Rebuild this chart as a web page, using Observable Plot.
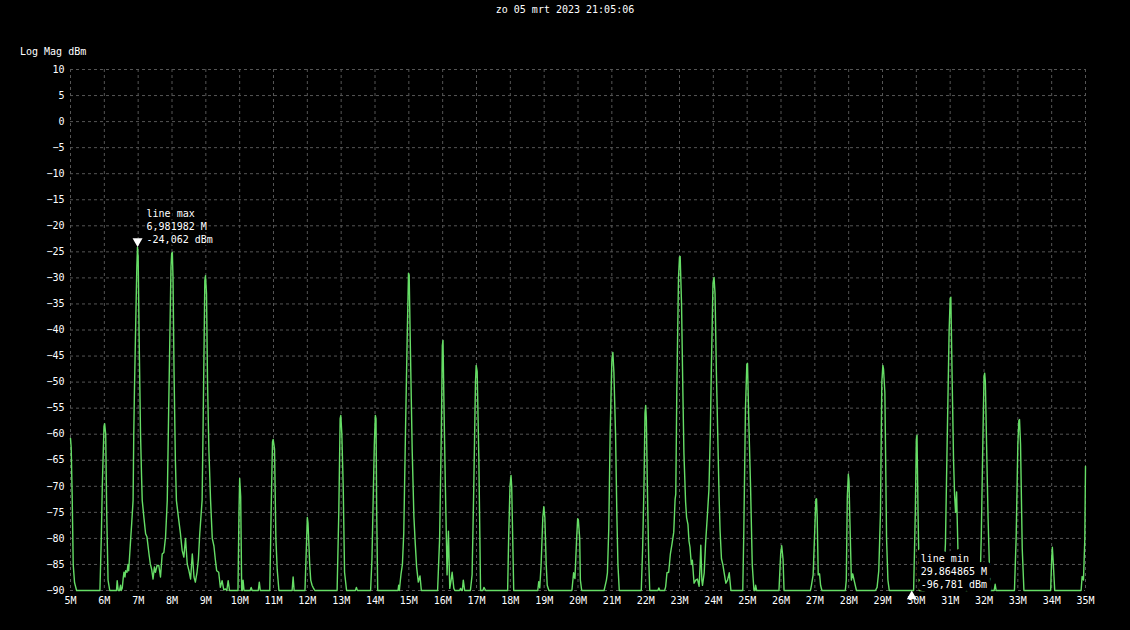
<!DOCTYPE html>
<html>
<head>
<meta charset="utf-8">
<script src="https://cdn.jsdelivr.net/npm/d3@7"></script>
<script src="https://cdn.jsdelivr.net/npm/@observablehq/plot@0.6"></script>
<style>
  html, body { margin: 0; padding: 0; background: #000; }
  #wrap { position: relative; width: 1130px; height: 630px; background: #000; font-family: "DejaVu Sans Mono", monospace; font-size: 10px; color: #fff; }
  #wrap svg { position: absolute; left: 0; top: 0; }
  #title { position: absolute; top: 4px; left: 0; width: 1130px; text-align: center; line-height: 12px; z-index: 2; }
  #ylab { position: absolute; top: 46px; left: 20px; line-height: 12px; z-index: 2; }
</style>
</head>
<body>
<div id="wrap"><div id="title"></div><div id="ylab"></div></div>
<script>
const titleText = "zo 05 mrt 2023 21:05:06";
const yUnitText = "Log Mag dBm";

const xTicks = [5,6,7,8,9,10,11,12,13,14,15,16,17,18,19,20,21,22,23,24,25,26,27,28,29,30,31,32,33,34,35];
const yTicks = [-90,-85,-80,-75,-70,-65,-60,-55,-50,-45,-40,-35,-30,-25,-20,-15,-10,-5,0,5,10];

// [frequency MHz, level dBm]
const seg05_10 = [
[5.00,-60.8],[5.02,-62.5],[5.05,-72],[5.08,-85],[5.12,-88.5],[5.18,-90],
[5.87,-90],[5.91,-80],[5.94,-70],[5.99,-58.5],[6.01,-58],[6.04,-60],[6.07,-75],[6.11,-88],[6.16,-90],
[6.36,-90],[6.38,-88.1],[6.41,-90],[6.45,-90],[6.48,-89],[6.50,-90],[6.53,-89.5],[6.56,-87.5],[6.58,-86.5],[6.61,-87.4],[6.63,-86.2],[6.67,-86.5],[6.70,-85],[6.72,-86.2],[6.77,-81],[6.81,-77],[6.85,-72.7],[6.87,-60],[6.89,-51.6],[6.93,-38],[6.96,-28],[6.98,-24.1],[7.00,-26],[7.03,-42],[7.07,-60],[7.10,-68],[7.12,-72.7],
[7.17,-76],[7.22,-79.1],[7.26,-79.7],[7.32,-83],[7.36,-84.9],[7.40,-86],[7.44,-87.8],[7.48,-85.5],[7.51,-86.5],[7.56,-85.2],[7.61,-85.2],[7.66,-87.4],[7.71,-83],[7.76,-82.7],[7.81,-79.7],[7.86,-72.7],[7.90,-56],[7.94,-40],[7.97,-28],[7.99,-25.3],[8.01,-25.1],[8.03,-30],[8.06,-48],[8.10,-65],[8.13,-72.7],
[8.20,-76.5],[8.25,-79.1],[8.30,-82.3],[8.35,-83.6],[8.40,-80],[8.45,-84.9],[8.50,-86.2],[8.55,-87.8],[8.60,-83],[8.65,-87.4],[8.69,-88.4],[8.74,-86.5],[8.78,-84],[8.82,-79.1],[8.89,-72.7],[8.92,-58],[8.95,-42],[8.97,-30.5],[8.99,-29.6],[9.02,-33],[9.05,-50],[9.09,-63],[9.14,-72.7],
[9.19,-80],[9.24,-81.5],[9.28,-84],[9.32,-86.2],[9.38,-86.5],[9.43,-89.4],[9.48,-88.1],[9.53,-89.9],[9.58,-89.7],[9.62,-90],[9.66,-88.1],[9.70,-90],[9.95,-90],[9.98,-75],[10.00,-68.5],[10.03,-72],[10.06,-90]
];
const seg10_15 = [
[10.08,-90],[10.10,-88],[10.13,-90],[10.31,-90],[10.34,-89.4],[10.37,-90],[10.55,-90],[10.58,-88.4],[10.61,-90],
[10.89,-90],[10.93,-75],[10.97,-61.5],[10.99,-61],[11.03,-62.8],[11.07,-80],[11.11,-86],[11.16,-90],
[11.55,-90],[11.58,-87.4],[11.61,-90],
[11.93,-90],[11.97,-82],[12.00,-76],[12.02,-77],[12.07,-85],[12.10,-88],[12.14,-89],[12.17,-89.4],[12.22,-90],
[12.88,-90],[12.93,-75],[12.97,-57],[12.99,-56.4],[13.02,-60],[13.06,-70],[13.10,-86.5],[13.16,-90],[13.42,-90],[13.45,-89.4],[13.48,-90],
[13.87,-90],[13.91,-84],[13.94,-74.6],[13.98,-62],[14.01,-56.4],[14.03,-57],[14.05,-75],[14.08,-90],
[14.68,-90],[14.70,-89],[14.72,-90],[14.75,-88],[14.77,-86.8],[14.81,-85],[14.85,-79],[14.90,-60],[14.95,-42],[14.99,-29.1],[15.01,-29.5],[15.05,-45],[15.10,-63.3],[15.15,-75.9],[15.19,-81],[15.23,-85.5],[15.28,-88.4],[15.33,-87.2],[15.37,-90]
];
const seg15_20 = [
[15.85,-90],[15.91,-80],[15.96,-60],[15.99,-43],[16.01,-42],[16.04,-55],[16.08,-70],[16.11,-80],[16.13,-87],[16.17,-78.6],[16.21,-89.6],[16.25,-88],[16.28,-86.5],[16.33,-89.6],[16.36,-90],[16.50,-90],[16.53,-89.6],[16.56,-90],[16.58,-90],[16.61,-88],[16.65,-90],
[16.82,-90],[16.87,-87],[16.92,-70],[16.97,-50],[16.99,-46.8],[17.02,-48],[17.07,-65],[17.12,-90],[17.19,-90],[17.22,-89.4],[17.27,-90],
[17.92,-90],[17.95,-80],[17.99,-70],[18.02,-67.9],[18.04,-70],[18.07,-80],[18.10,-90],
[18.81,-90],[18.84,-88.3],[18.87,-89.5],[18.91,-85],[18.96,-76],[18.99,-73.9],[19.02,-76],[19.06,-85],[19.09,-89],[19.14,-90],
[19.82,-90],[19.87,-86.6],[19.91,-87.7],[19.96,-80],[19.99,-76.2],[20.01,-76.4],[20.05,-80],[20.07,-88],[20.11,-90]
];
const seg20_25 = [
[20.77,-90],[20.84,-88],[20.87,-86.6],[20.91,-78],[20.95,-60],[21.00,-46],[21.03,-44.3],[21.06,-48],[21.11,-60],[21.15,-76],[21.18,-85],[21.22,-90],
[21.87,-90],[21.91,-82],[21.95,-70],[21.98,-56],[22.00,-54.5],[22.02,-57],[22.05,-70],[22.09,-84],[22.12,-90],[22.36,-90],[22.39,-89.5],[22.42,-90],[22.56,-90],[22.59,-89.3],[22.61,-88],
[22.63,-86.6],[22.68,-86.5],[22.73,-83],[22.78,-81],[22.83,-78.8],[22.87,-72.5],[22.89,-71.5],[22.92,-52],[22.97,-30],[23.00,-26],[23.02,-25.9],[23.06,-35],[23.10,-52],[23.13,-63.5],[23.18,-73],[23.21,-76],[23.25,-77.3],[23.28,-80.5],[23.31,-81.7],[23.35,-85],[23.38,-84.2],[23.43,-88.6],[23.48,-88],[23.53,-87.8],[23.58,-89.2],[23.61,-85],[23.63,-81.3],[23.66,-88],[23.68,-89],[23.73,-86.6],[23.77,-81],[23.82,-76],[23.87,-70.6],[23.91,-60],[23.94,-48],[23.99,-31],[24.02,-29.9],[24.05,-33],[24.09,-48],[24.12,-57],[24.17,-72],[24.20,-78.6],[24.24,-83.9],[24.28,-85],[24.32,-86.6],[24.37,-88.6],[24.42,-88],[24.47,-86.6],[24.52,-90],
[24.87,-90],[24.90,-79],[24.95,-55],[24.99,-46.6],[25.01,-46.4],[25.05,-58],[25.10,-70],[25.15,-85],[25.20,-90],[25.23,-90],[25.25,-89],[25.28,-90]
];
const seg25_30 = [
[25.94,-90],[25.99,-83],[26.02,-81.4],[26.06,-84],[26.09,-90],
[26.87,-90],[26.90,-89],[26.95,-87],[27.00,-78],[27.03,-72.5],[27.05,-72.4],[27.07,-76],[27.10,-87],[27.14,-86.8],[27.17,-89],[27.21,-90],
[27.90,-90],[27.93,-88],[27.96,-72],[27.99,-67.7],[28.01,-69],[28.03,-75],[28.08,-88],[28.12,-86.8],[28.16,-88],[28.23,-90],
[28.79,-90],[28.84,-89.4],[28.89,-86.2],[28.94,-75],[28.98,-50],[29.01,-46.8],[29.03,-47.5],[29.07,-52],[29.12,-80],[29.16,-88],[29.20,-90],
[29.92,-90],[29.97,-75],[30.00,-61],[30.02,-60.2],[30.05,-75],[30.09,-90]
];
const seg30_35 = [
[30.76,-90],[30.81,-88],[30.86,-81],[30.91,-62],[30.97,-40],[31.00,-34],[31.02,-33.7],[31.06,-50],[31.10,-65],[31.13,-71.6],[31.16,-75],[31.19,-71.1],[31.23,-82.4],[31.29,-86],[31.36,-90],
[31.85,-90],[31.90,-84.7],[31.92,-79.6],[31.97,-60],[32.00,-49],[32.02,-48.3],[32.04,-50],[32.07,-60],[32.12,-76],[32.17,-88],[32.20,-90],[32.30,-90],[32.33,-88.8],[32.36,-90],
[32.90,-90],[32.95,-80],[33.00,-62],[33.03,-57.4],[33.05,-57.2],[33.08,-62],[33.13,-82],[33.18,-90],
[33.97,-90],[34.00,-84],[34.02,-81.7],[34.05,-85],[34.09,-90],
[34.87,-90],[34.90,-87.3],[34.94,-88],[34.98,-80],[35.00,-66.2]
];

const markerMax = { name: "line max", f: 6.981982, v: -24.062 };
const markerMin = { name: "line min", f: 29.864865, v: -96.781 };

const spectrum = [...seg05_10, ...seg10_15, ...seg15_20, ...seg20_25, ...seg25_30, ...seg30_35]
  .map(([f, v]) => ({ f, v }));

const fmtLabel = d => [d.name, d.f.toFixed(6).replace(".", ",") + " M", d.v.toFixed(3).replace(".", ",") + " dBm"].join("\n");

document.getElementById("title").textContent = titleText;
document.getElementById("ylab").textContent = yUnitText;

const grid = { stroke: "#555", strokeOpacity: 1, strokeDasharray: "3,3", strokeWidth: 1 };

const chart = Plot.plot({
  width: 1130,
  height: 630,
  marginTop: 69,
  marginBottom: 40,
  marginLeft: 70,
  marginRight: 45,
  style: { background: "#000", color: "#fff", fontFamily: "'DejaVu Sans Mono', monospace", fontSize: "10px", overflow: "visible" },
  x: { domain: [5, 35] },
  y: { domain: [-90, 10], clamp: true },
  marks: [
    Plot.gridX(xTicks, grid),
    Plot.gridY(yTicks, grid),
    Plot.axisX(xTicks, { tickSize: 0, tickPadding: 6, tickFormat: d => d + "M", label: null, fill: "#fff" }),
    Plot.axisY(yTicks, { tickSize: 0, tickPadding: 6, label: null, fill: "#fff" }),
    Plot.line(spectrum, { x: "f", y: "v", stroke: "#66dd66", strokeWidth: 1.4 }),
    Plot.text([markerMin], { x: "f", y: "v", text: fmtLabel, textAnchor: "start", lineAnchor: "bottom", dx: 9, dy: -3, lineHeight: 1.3, fill: "#fff", stroke: "#000", strokeWidth: 10, fontSize: 10 }),
    Plot.text([markerMax], { x: "f", y: "v", text: fmtLabel, textAnchor: "start", lineAnchor: "bottom", dx: 9, dy: -4, lineHeight: 1.3, fill: "#fff", stroke: "#000", strokeWidth: 4, fontSize: 10 }),
    Plot.dot([markerMax], { x: "f", y: "v", symbol: "triangle", rotate: 180, r: 3.7, fill: "#fff", stroke: null, dy: -5.8 }),
    Plot.dot([markerMin], { x: "f", y: "v", symbol: "triangle", r: 3.7, fill: "#fff", stroke: null, dy: 5.8 })
  ]
});

document.getElementById("wrap").appendChild(chart);
</script>
</body>
</html>
